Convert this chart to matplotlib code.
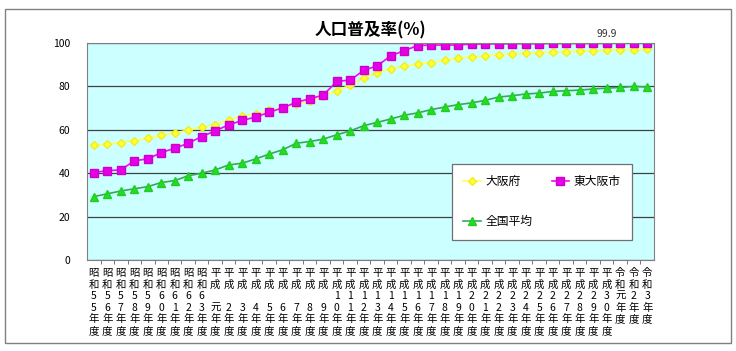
import matplotlib
matplotlib.use("Agg")
import matplotlib.pyplot as plt
from matplotlib.patches import Rectangle
from matplotlib.ticker import FixedLocator

plt.rcParams['font.family'] = ['Noto Sans CJK JP', 'DejaVu Sans']

# Year labels (written vertically, one character per row)
years = (["昭和" + str(n) + "年度" for n in range(55, 64)]
         + ["平成元年度"]
         + ["平成" + str(n) + "年度" for n in range(2, 31)]
         + ["令和元年度", "令和2年度", "令和3年度"])

# Population coverage (%)
osaka_fu = [53.0, 53.3, 54.1, 55.0, 56.1, 57.4, 58.4, 60.0, 61.2, 62.3,
            64.7, 66.2, 67.4, 69.0, 70.1, 71.9, 73.2, 75.5, 78.0, 80.6,
            84.0, 86.2, 88.2, 89.2, 90.4, 91.0, 92.0, 92.9, 93.6, 94.0,
            94.6, 95.0, 95.3, 95.6, 95.8, 96.0, 96.2, 96.4, 96.6, 96.8,
            97.0, 97.1]
higashiosaka = [40.3, 41.2, 41.5, 45.7, 46.6, 49.5, 51.5, 53.8, 56.9, 59.5,
                62.3, 64.3, 65.9, 68.1, 70.1, 72.7, 74.3, 76.0, 82.3, 82.9,
                87.4, 89.5, 94.1, 96.5, 98.8, 99.1, 99.0, 99.1, 99.5, 99.6,
                99.6, 99.7, 99.7, 99.7, 99.8, 99.8, 99.8, 99.8, 99.9, 99.9,
                99.9, 99.9]
national = [29.2, 30.5, 31.8, 32.8, 33.8, 35.7, 36.6, 38.8, 40.0, 41.5,
            43.8, 44.6, 46.6, 48.8, 50.8, 53.8, 54.6, 55.7, 57.7, 59.5,
            61.9, 63.4, 65.0, 66.7, 67.8, 69.3, 70.5, 71.6, 72.4, 73.6,
            75.1, 75.7, 76.5, 76.9, 77.7, 78.0, 78.3, 78.8, 79.2, 79.5,
            80.0, 79.7]


def vertical(label):
    # 平成 single digit years keep an empty row like the original
    if label.startswith("平成") and len(label) == 5:
        label = label[:2] + " " + label[2:]
    return "\n".join(label)


fig = plt.figure(figsize=(7.36, 3.51), dpi=100)
fig.patches.append(Rectangle((5 / 736, 1 - 343 / 351), 726 / 736, 334 / 351,
                             transform=fig.transFigure, fill=False,
                             edgecolor="#808080", linewidth=1))

ax = fig.add_axes([87 / 736, 1 - 260 / 351, 567 / 736, 217 / 351])
ax.set_facecolor("#CCFFFF")

x = list(range(len(years)))
l1, = ax.plot(x, osaka_fu, color="#FFFF55", marker="D", markersize=4.2,
              markerfacecolor="#FFFF33", markeredgecolor="#EEEE22", linewidth=1.2, label="大阪府")
l2, = ax.plot(x, higashiosaka, color="#FF00FF", marker="s", markersize=5.2,
              markerfacecolor="#E600E6", markeredgecolor="#CC00CC", linewidth=1.2, label="東大阪市")
l3, = ax.plot(x, national, color="#33AA55", marker="^", markersize=5.2,
              markerfacecolor="#22DD22", markeredgecolor="#22CC22", linewidth=1.2, label="全国平均")

ax.set_xlim(-0.5, len(years) - 0.5)
ax.set_ylim(0, 100)
ax.set_yticks([0, 20, 40, 60, 80, 100])
ax.yaxis.grid(True, color="#404040", linewidth=0.9)
ax.set_axisbelow(True)
ax.tick_params(axis="y", length=0, pad=12, labelsize=7.5)

ax.set_xticks(x)
ax.set_xticklabels([vertical(y) for y in years], fontsize=7.5, linespacing=1.18, va="top")
ax.tick_params(axis="x", which="major", length=0, pad=6)
ax.xaxis.set_minor_locator(FixedLocator([i + 0.5 for i in range(len(years) - 1)]))
ax.tick_params(axis="x", which="minor", length=3, direction="out", color="#606060")

for s in ax.spines.values():
    s.set_color("#808080")

ax.text(38, 102, "99.9", ha="center", va="bottom", fontsize=7.5, color="#333333")

fig.text(370 / 736, 1 - 30 / 351, "人口普及率(%)", ha="center", va="center",
         fontsize=12, fontweight="bold")

leg = ax.legend([l1, l3, l2], ["大阪府", "全国平均", "東大阪市"], ncol=2,
                loc="upper left", bbox_to_anchor=(452 / 736, 1 - 164 / 351),
                bbox_transform=fig.transFigure, borderaxespad=0,
                fontsize=8.5, labelspacing=2.3, handlelength=1.5,
                handletextpad=0.4, columnspacing=1.6, borderpad=0.95,
                fancybox=False, framealpha=1, edgecolor="#707070")
leg.get_frame().set_linewidth(0.9)

fig.savefig("out.png", dpi=100, facecolor="white")
